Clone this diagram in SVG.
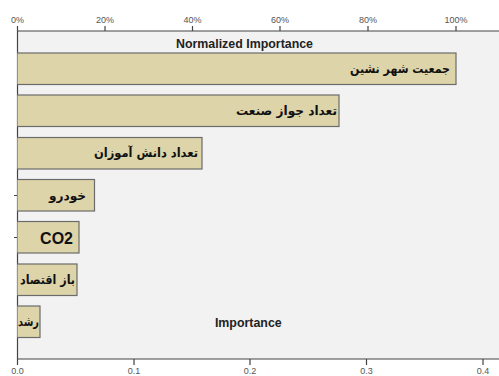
<svg xmlns="http://www.w3.org/2000/svg" width="499" height="376" viewBox="0 0 499 376">
<style>
.bar{fill:#ddd4a9;stroke:#6b6b6b;stroke-width:1.2}
.fa{font-family:"DejaVu Sans","Noto Sans",sans-serif;font-weight:bold;font-size:12.5px;fill:#111;text-anchor:end}
.tick{font-family:"Liberation Sans",Arial,sans-serif;font-size:9px;fill:#555;text-anchor:middle}
.ttl{font-family:"Liberation Sans",Arial,sans-serif;font-size:12.4px;font-weight:bold;fill:#222;text-anchor:middle}
.ax{stroke:#444;stroke-width:1.2;fill:none}
</style>
<defs>
<clipPath id="plot"><rect x="17" y="31" width="482" height="328"/></clipPath>
</defs>
<rect x="0" y="0" width="499" height="376" fill="#ffffff"/>
<rect x="17" y="31" width="482" height="328" fill="#f2f2f2"/>
<g id="axes">
<g id="top-axis">
<line class="ax" x1="17" y1="31" x2="499" y2="31"/>
<path class="ax" d="M17.5 26V31M105 26V31M192.5 26V31M280 26V31M368 26V31M456 26V31"/>
<text class="tick" x="17.5" y="23">0%</text>
<text class="tick" x="105" y="23">20%</text>
<text class="tick" x="192.5" y="23">40%</text>
<text class="tick" x="280" y="23">60%</text>
<text class="tick" x="368" y="23">80%</text>
<text class="tick" x="456" y="23">100%</text>
</g>
<g id="bottom-axis">
<line class="ax" x1="17" y1="359" x2="499" y2="359"/>
<path class="ax" d="M17.5 359V365M134 359V365M250 359V365M366.5 359V365M483 359V365"/>
<text class="tick" x="17.5" y="374">0.0</text>
<text class="tick" x="134" y="374">0.1</text>
<text class="tick" x="250" y="374">0.2</text>
<text class="tick" x="366.5" y="374">0.3</text>
<text class="tick" x="483" y="374">0.4</text>
</g>
<line class="ax" x1="17.5" y1="31" x2="17.5" y2="359"/>
<path class="ax" d="M14 195.5H17M14 237.5H17" stroke-width="0.8"/>
</g>
<text class="ttl" x="244.5" y="47.5">Normalized Importance</text>
<text class="ttl" x="248.3" y="327">Importance</text>
<g id="bars" clip-path="url(#plot)">
<g id="n1"><rect class="bar" x="17" y="53" width="439" height="31.5"/>
<text class="fa" x="450" y="72.5" textLength="100" lengthAdjust="spacingAndGlyphs">جمعیت شهر نشین</text></g>
<g id="n2"><rect class="bar" x="17" y="95" width="322" height="31.5"/>
<text class="fa" x="337" y="114.5" textLength="101" lengthAdjust="spacingAndGlyphs">تعداد جواز صنعت</text></g>
<g id="n3"><rect class="bar" x="17" y="137.5" width="185" height="31.5"/>
<text class="fa" x="198" y="156.5" textLength="104" lengthAdjust="spacingAndGlyphs">تعداد دانش آموزان</text></g>
<g id="n4"><rect class="bar" x="17" y="179.5" width="77.5" height="31.5"/>
<text class="fa" x="86" y="200" textLength="37" lengthAdjust="spacingAndGlyphs">خودرو</text></g>
<g id="n5"><rect class="bar" x="17" y="221.5" width="62" height="31.5"/>
<text x="73" y="243.5" font-family="Liberation Sans, Arial, sans-serif" font-weight="bold" font-size="16" fill="#111" text-anchor="end">CO2</text></g>
<g id="n6"><rect class="bar" x="17" y="264" width="60" height="31.5"/>
<text class="fa" x="75" y="283.5" textLength="55" lengthAdjust="spacingAndGlyphs">باز اقتصاد</text></g>
<g id="n7"><rect class="bar" x="17" y="306" width="23" height="31.5"/>
<text class="fa" x="39" y="325.5" textLength="21" lengthAdjust="spacingAndGlyphs">رشد</text></g>
</g>
</svg>
